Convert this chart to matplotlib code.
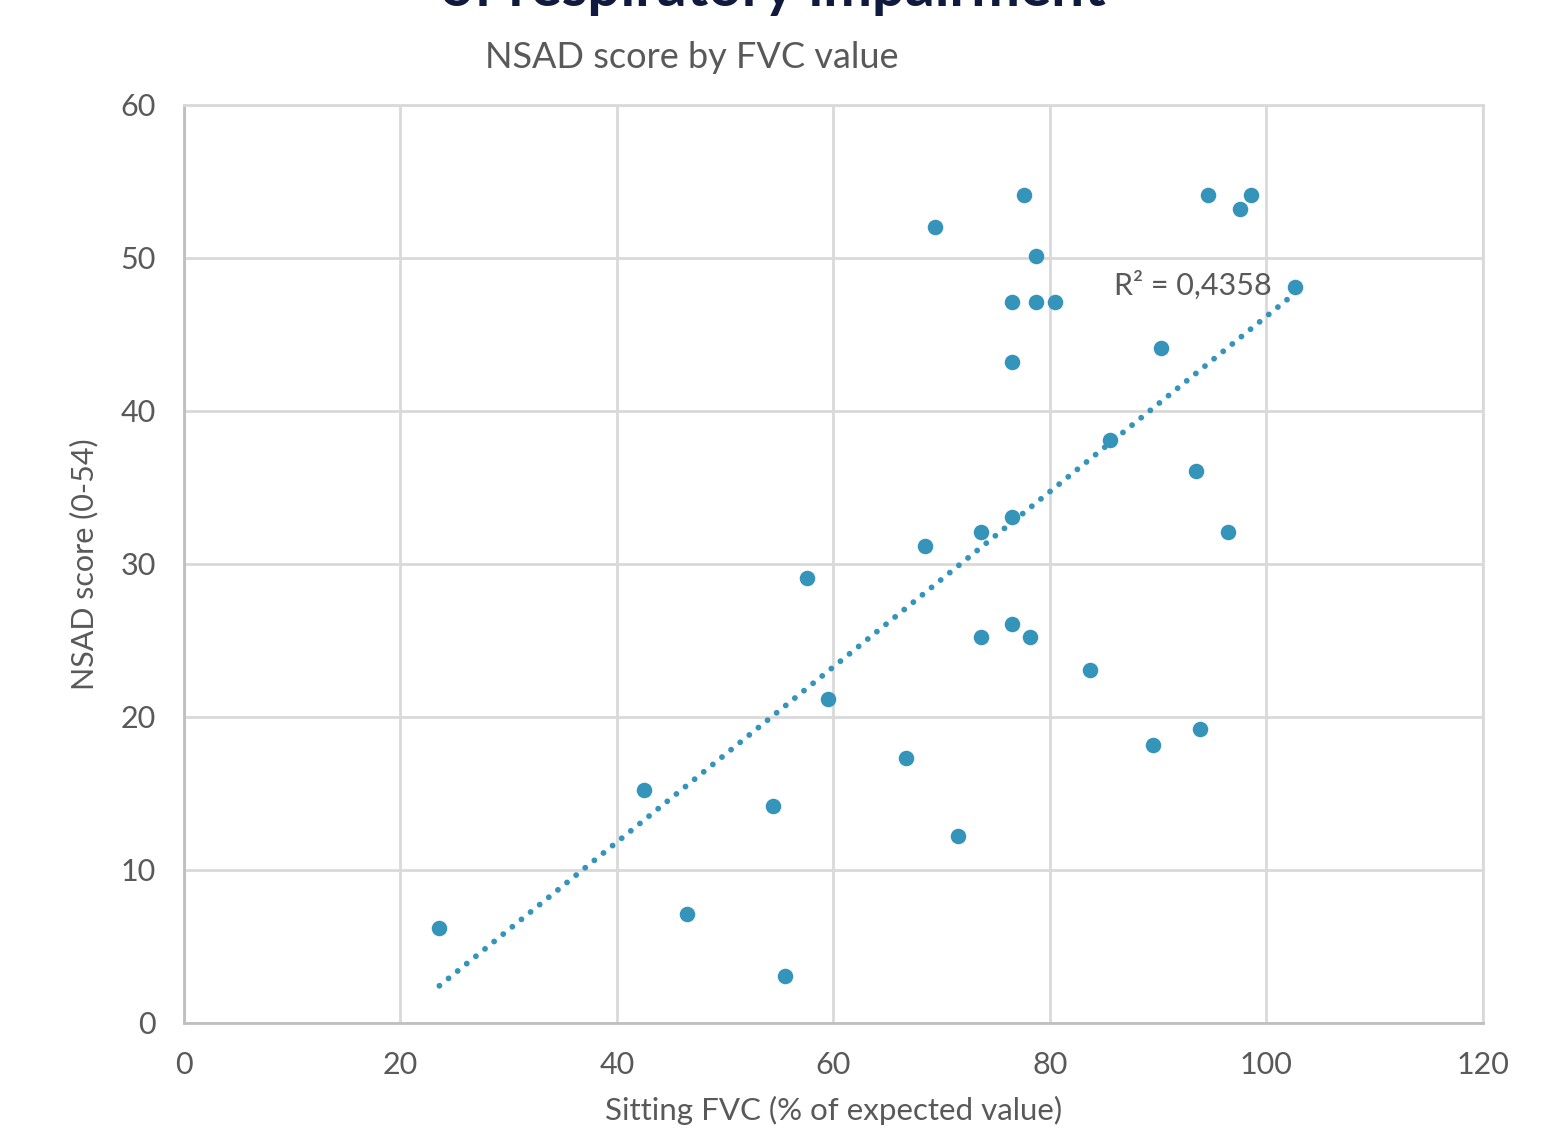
import numpy as np
import matplotlib.pyplot as plt

plt.rcParams['font.family'] = ['Lato', 'DejaVu Sans']

# data
fvc = [23.6, 42.5, 46.5, 54.4, 55.5, 57.6, 59.5, 66.7, 68.5, 69.4, 71.5,
       73.6, 73.6, 76.5, 76.5, 76.5, 76.5, 77.6, 78.2, 78.7, 78.7, 80.5,
       83.7, 85.5, 89.5, 90.3, 93.5, 93.9, 94.6, 96.4, 97.6, 98.6, 102.6]
nsad = [6.2, 15.2, 7.1, 14.2, 3.1, 29.1, 21.2, 17.3, 31.2, 52.0, 12.2,
        32.1, 25.2, 47.1, 43.2, 33.1, 26.1, 54.1, 25.2, 50.1, 47.1, 47.1,
        23.1, 38.1, 18.2, 44.1, 36.1, 19.2, 54.1, 32.1, 53.2, 54.1, 48.1]
r2_label = "R² = 0,4358"

x_ticks = [0, 20, 40, 60, 80, 100, 120]
y_ticks = [0, 10, 20, 30, 40, 50, 60]

dot_col = '#3494ba'
text_col = '#595959'
grid_col = '#d9d9d9'

fig = plt.figure(figsize=(15.64, 11.30), dpi=100)
ax = fig.add_axes([0.1176, 0.0947, 0.8306, 0.8124])

ax.scatter(fvc, nsad, s=125, color=dot_col, zorder=3, linewidths=0)

# linear trendline over the data range
x = np.array(fvc)
k, b = np.polyfit(x, np.array(nsad), 1)
xs = np.array([x.min(), x.max()])
ax.plot(xs, k * xs + b, color=dot_col, lw=4.2, ls=(0, (0.01, 2.0)),
        dash_capstyle='round', zorder=2)
ax.text(93.2, 48.2, r2_label, fontsize=22, color=text_col,
        ha='center', va='center', zorder=4)

ax.set_xlim(0, 120)
ax.set_ylim(0, 60)
ax.set_xticks(x_ticks)
ax.set_yticks(y_ticks)
ax.grid(True, color=grid_col, lw=2)
ax.set_axisbelow(True)
for s in ax.spines.values():
    s.set_color(grid_col)
    s.set_linewidth(2)
ax.spines['left'].set_color('#bfbfbf')
ax.spines['bottom'].set_color('#bfbfbf')
ax.tick_params(length=0, labelsize=22, labelcolor=text_col)
ax.tick_params(axis='x', pad=20)
ax.tick_params(axis='y', pad=20)

ax.set_xlabel("Sitting FVC (% of expected value)", fontsize=22.5,
              color=text_col, labelpad=12)
ax.set_ylabel("NSAD score (0-54)", fontsize=22, color=text_col, labelpad=16)

fig.text(0.442, 0.9495, "NSAD score by FVC value", fontsize=26,
         color=text_col, ha='center', va='center')
fig.text(0.494, 1.009, "of respiratory impairment", fontsize=42,
         color='#0f1a3e', fontweight='bold', ha='center', va='center')

fig.savefig('out.png', dpi=100)
